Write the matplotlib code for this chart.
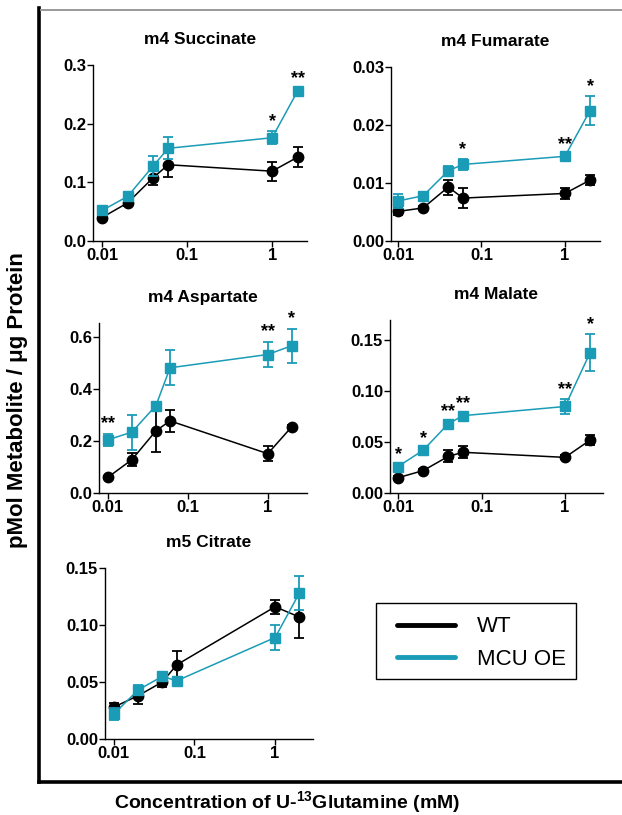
import matplotlib
import matplotlib.pyplot as plt
from matplotlib.lines import Line2D
from matplotlib.patches import Rectangle
import numpy as np

matplotlib.use('Agg')

plt.rcParams['font.family'] = ['Liberation Sans', 'DejaVu Sans']
plt.rcParams['mathtext.fontset'] = 'custom'
plt.rcParams['mathtext.bf'] = 'Liberation Sans:bold'
plt.rcParams['mathtext.rm'] = 'Liberation Sans:bold'

conc = [0.01, 0.02, 0.04, 0.06, 1, 2]

titles = ['m4 Succinate', 'm4 Fumarate', 'm4 Aspartate', 'm4 Malate', 'm5 Citrate']

wt_mean = [
    [0.040, 0.065, 0.108, 0.130, 0.119, 0.143],
    [0.0051, 0.0057, 0.0093, 0.0074, 0.0082, 0.0105],
    [0.060, 0.128, 0.239, 0.277, 0.151, 0.255],
    [0.015, 0.022, 0.036, 0.040, 0.035, 0.052],
    [0.028, 0.038, 0.050, 0.065, 0.116, 0.107],
]
wt_err = [
    [0.003, 0.006, 0.013, 0.021, 0.016, 0.017],
    [0.0007, 0.0003, 0.0013, 0.0017, 0.0009, 0.0009],
    [0.005, 0.025, 0.081, 0.041, 0.029, 0.005],
    [0.002, 0.002, 0.006, 0.006, 0.002, 0.005],
    [0.004, 0.007, 0.004, 0.012, 0.006, 0.018],
]
mcu_mean = [
    [0.052, 0.076, 0.128, 0.158, 0.176, 0.256],
    [0.0069, 0.0078, 0.0121, 0.0132, 0.0146, 0.0225],
    [0.204, 0.234, 0.336, 0.481, 0.532, 0.566],
    [0.026, 0.042, 0.068, 0.076, 0.085, 0.138],
    [0.022, 0.043, 0.055, 0.051, 0.089, 0.128],
]
mcu_err = [
    [0.003, 0.004, 0.017, 0.019, 0.011, 0.004],
    [0.0012, 0.0004, 0.0009, 0.0009, 0.0004, 0.0025],
    [0.024, 0.067, 0.005, 0.068, 0.049, 0.065],
    [0.002, 0.002, 0.002, 0.002, 0.007, 0.018],
    [0.005, 0.004, 0.003, 0.002, 0.011, 0.015],
]
stars = [
    ['', '', '', '', '*', '**'],
    ['', '', '', '*', '**', '*'],
    ['**', '', '', '', '**', '*'],
    ['*', '*', '**', '**', '**', '*'],
    ['', '', '', '', '', ''],
]
yticks = [
    [0.0, 0.1, 0.2, 0.3],
    [0.00, 0.01, 0.02, 0.03],
    [0.0, 0.2, 0.4, 0.6],
    [0.00, 0.05, 0.10, 0.15],
    [0.00, 0.05, 0.10, 0.15],
]
ytick_labels = [
    ['0.0', '0.1', '0.2', '0.3'],
    ['0.00', '0.01', '0.02', '0.03'],
    ['0.0', '0.2', '0.4', '0.6'],
    ['0.00', '0.05', '0.10', '0.15'],
    ['0.00', '0.05', '0.10', '0.15'],
]
xticks = [0.01, 0.1, 1]
xtick_labels = ['0.01', '0.1', '1']
legend_labels = ['WT', 'MCU OE']

TEAL = '#1a9cb6'
W, H = 622, 815

# axes boxes in pixels: left, right, top, bottom
boxes = [(93, 307, 65, 241), (391, 600, 67, 241), (99, 307, 323, 493),
         (390, 603, 320, 493), (105, 313, 568, 739)]
ylims = [0.3, 0.03, 0.653, 0.17, 0.15]
xlims = [(10 ** -2.106, 10 ** 0.41), (10 ** -2.084, 10 ** 0.42), (10 ** -2.11, 10 ** 0.49),
         (10 ** -2.096, 10 ** 0.455), (10 ** -2.11, 10 ** 0.47)]


def main():
    fig = plt.figure(figsize=(W / 100, H / 100), dpi=100)

    for i in range(5):
        l, r, t, b = boxes[i]
        ax = fig.add_axes([l / W, 1 - b / H, (r - l) / W, (b - t) / H])
        ax.errorbar(conc, wt_mean[i], yerr=wt_err[i], color='black', marker='o',
                    markersize=7.5, lw=1.1, capsize=3.5, elinewidth=1.3, capthick=1.3, zorder=3)
        ax.errorbar(conc, mcu_mean[i], yerr=mcu_err[i], color=TEAL, marker='s',
                    markersize=7, lw=1.1, capsize=3.5, elinewidth=1.3, capthick=1.3, zorder=4)
        for x, m, e, s in zip(conc, mcu_mean[i], mcu_err[i], stars[i]):
            if s:
                ax.annotate(s, (x, m + e), xytext=(0, 1), textcoords='offset points',
                            ha='center', va='bottom', fontsize=13, fontweight='bold')
        ax.set_xscale('log')
        ax.set_xlim(*xlims[i])
        ax.set_ylim(0, ylims[i])
        ax.set_xticks(xticks)
        ax.set_xticklabels(xtick_labels)
        ax.xaxis.set_minor_locator(matplotlib.ticker.NullLocator())
        ax.set_yticks(yticks[i])
        ax.set_yticklabels(ytick_labels[i])
        for sp in ['top', 'right']:
            ax.spines[sp].set_visible(False)
        for sp in ['left', 'bottom']:
            ax.spines[sp].set_linewidth(1.0)
        ax.tick_params(length=4, width=1.0, labelsize=12, pad=1)
        for lab in ax.get_xticklabels() + ax.get_yticklabels():
            lab.set_fontweight('bold')
        ax.set_title(titles[i], fontsize=12.5, fontweight='bold', pad=15)
        ax.patch.set_visible(False)

    # outer frame
    fig.add_artist(Line2D([39 / W, 39 / W], [1 - 8 / H, 1 - 782 / H], color='black', lw=2.6))
    fig.add_artist(Line2D([39 / W, 1], [1 - 782 / H, 1 - 782 / H], color='black', lw=2.6))
    fig.add_artist(Line2D([41 / W, 1], [1 - 10 / H, 1 - 10 / H], color='#999999', lw=1.4))

    fig.text(18 / W, 1 - 400 / H, 'pMol Metabolite / μg Protein', rotation=90,
             ha='center', va='center', fontsize=16, fontweight='bold')
    fig.text(287 / W, 1 - 803 / H, r'Concentration of U-$^{\mathbf{13}}$Glutamine (mM)',
             ha='center', va='center', fontsize=14, fontweight='bold')

    # legend box drawn separately so the handles can sit inset like the original
    fig.add_artist(Rectangle((376 / W, 1 - 679 / H), 200 / W, 76 / H, transform=fig.transFigure,
                             fill=False, edgecolor='black', lw=1.0))
    handles = [Line2D([], [], color='black', lw=3.5, solid_capstyle='round'),
               Line2D([], [], color=TEAL, lw=3.5, solid_capstyle='round')]
    fig.legend(handles, legend_labels, loc='center left',
               bbox_to_anchor=(397 / W, 1 - 643 / H),
               fontsize=16, frameon=False, handlelength=2.6, handletextpad=1.0,
               borderpad=0, labelspacing=0.5, borderaxespad=0)

    plt.savefig('out.png', dpi=100)
    plt.close()


if __name__ == '__main__':
    main()
